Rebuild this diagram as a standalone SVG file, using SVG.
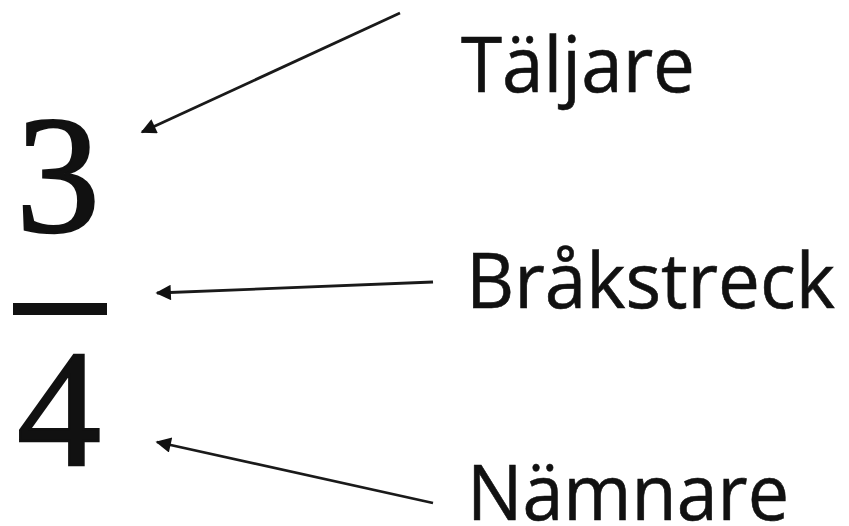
<svg xmlns="http://www.w3.org/2000/svg" width="849" height="526" viewBox="0 0 849 526">
<style>
.num{font-family:"Liberation Serif","Times New Roman",serif;font-size:168px;fill:#111;stroke:#111;stroke-width:2.5}
.lbl{font-family:"Open Sans","Noto Sans",sans-serif;font-size:76px;fill:#111;stroke:#111;stroke-width:0.6}
.conn{stroke:#1a1a1a;stroke-width:2.8;fill:none;marker-end:url(#ah)}
</style>
<defs>
<marker id="ah" viewBox="0 0 10 10" refX="9" refY="5" markerWidth="6.5" markerHeight="5.5" markerUnits="strokeWidth" orient="auto">
<path d="M0,0 L10,5 L0,10 z" fill="#111"/>
</marker>
</defs>
<rect width="849" height="526" fill="#fff"/>
<g id="fraction">
<text class="num" x="16" y="231">3</text>
<rect x="13" y="303" width="94" height="12" fill="#111"/>
<text class="num" x="17" y="465">4</text>
</g>
<g id="taljare"><text class="lbl" x="461" y="92" textLength="234" lengthAdjust="spacingAndGlyphs">Täljare</text></g>
<g id="brakstreck"><text class="lbl" x="466" y="308" textLength="369" lengthAdjust="spacingAndGlyphs">Bråkstreck</text></g>
<g id="namnare"><text class="lbl" x="467" y="520" textLength="322" lengthAdjust="spacingAndGlyphs">Nämnare</text></g>
<g id="connectors">
<line class="conn" x1="400" y1="13" x2="142" y2="132"/>
<line class="conn" x1="433" y1="282" x2="157" y2="293"/>
<line class="conn" x1="433" y1="503" x2="157" y2="442"/>
</g>
</svg>
